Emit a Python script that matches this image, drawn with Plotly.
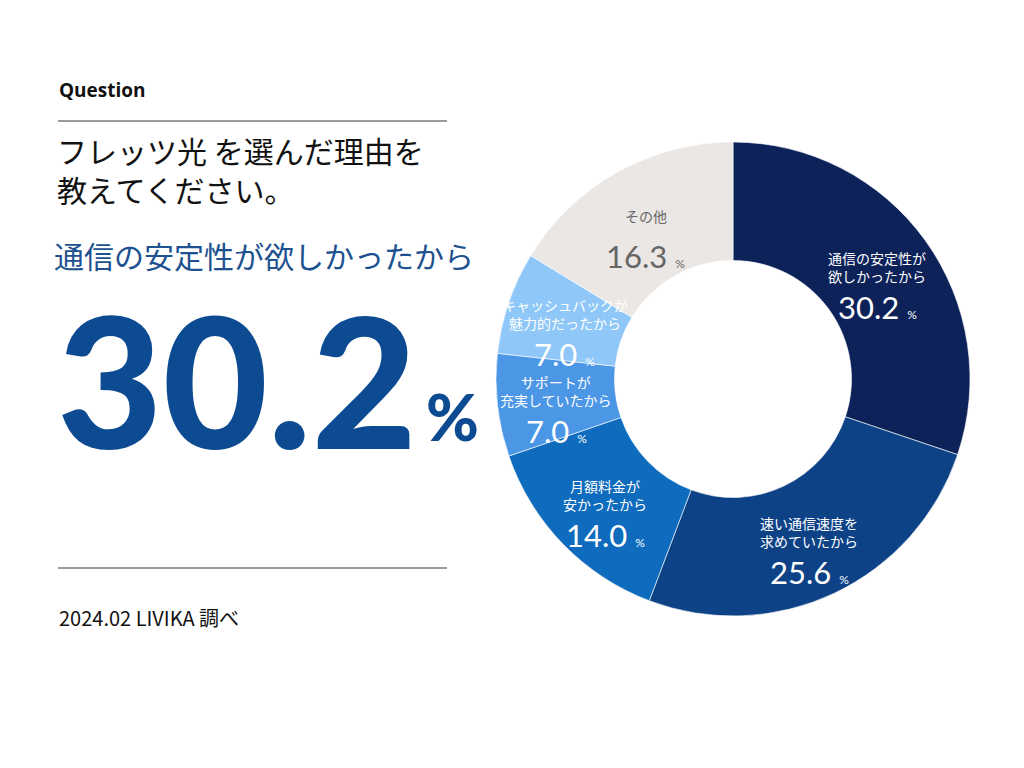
import numpy as np
import plotly.graph_objects as go

# survey data
labels = ["通信の安定性が<br>欲しかったから", "速い通信速度を<br>求めていたから",
          "月額料金が<br>安かったから", "サポートが<br>充実していたから",
          "キャッシュバックが<br>魅力的だったから", "その他"]
values = [30.2, 25.6, 14.0, 7.0, 7.0, 16.3]
colors = ["#0c2259", "#0e4287", "#0f6bbd", "#4b96e5", "#8fc8f8", "#ebe7e4"]
text_colors = ["white", "white", "white", "white", "white", "#666666"]

question = ["フレッツ光 を選んだ理由を", "教えてください。"]
top_label = "通信の安定性が欲しかったから"
top_value = values[0]
source = "2024.02 LIVIKA 調べ"

W, H = 1024, 768
cx, cy, r_out, hole = 733, 379, 237, 0.5


def px(x):
    return x / W


def py(y):
    return 1 - y / H


fig = go.Figure()
fig.add_trace(go.Pie(
    labels=labels, values=values, sort=False, direction="clockwise",
    rotation=0, hole=hole, textinfo="none", hoverinfo="label+value",
    marker=dict(colors=colors, line=dict(color="white", width=0.6)),
    domain=dict(x=[px(cx - r_out), px(cx + r_out)],
                y=[py(cy + r_out), py(cy - r_out)]),
    showlegend=False,
))

# slice labels at the middle of the ring
cum = np.cumsum([0] + values)
total = cum[-1]
r_mid = r_out * (1 + hole) / 2
for i, (lab, v) in enumerate(zip(labels, values)):
    ang = np.deg2rad((cum[i] + v / 2) / total * 360)
    x = cx + r_mid * np.sin(ang)
    y = cy - r_mid * np.cos(ang)
    fig.add_annotation(x=px(x), y=py(y), xref="paper", yref="paper",
                       text=lab, showarrow=False, yshift=8, borderpad=0,
                       xanchor="center", yanchor="middle",
                       font=dict(family="Noto Sans CJK JP", size=14,
                                 color=text_colors[i]))
    fig.add_annotation(x=px(x), y=py(y), xref="paper", yref="paper",
                       text="%.1f <span style='font-size:12px'>%%</span>" % v,
                       showarrow=False, yshift=-32, borderpad=0,
                       xanchor="center", yanchor="middle",
                       font=dict(family="Lato", size=31,
                                 color=text_colors[i]))

# left side texts
fig.add_annotation(x=px(57), y=py(90), xref="paper", yref="paper",
                   text="<b>Question</b>", showarrow=False,
                   xanchor="left", yanchor="middle",
                   font=dict(family="Open Sans", size=19, color="#111111"))
fig.add_annotation(x=px(56), y=py(170), xref="paper", yref="paper",
                   text="<br>".join(question), showarrow=False, borderpad=0,
                   xanchor="left", yanchor="middle", align="left",
                   font=dict(family="Noto Sans CJK JP", size=30,
                             color="#111111"))
fig.add_annotation(x=px(53), y=py(255), xref="paper", yref="paper",
                   text=top_label, showarrow=False, borderpad=0,
                   xanchor="left", yanchor="middle",
                   font=dict(family="Noto Sans CJK JP", size=30, color="#1d5190"))
fig.add_annotation(x=px(56), y=py(378), xref="paper", yref="paper",
                   text="%.1f" % top_value, borderpad=0,
                   showarrow=False, xanchor="left", yanchor="middle",
                   font=dict(family="Lato", size=182, weight=900,
                             color="#0c4a92"))
fig.add_annotation(x=px(424), y=py(416), xref="paper", yref="paper",
                   text="%", showarrow=False, xanchor="left", yanchor="middle",
                   font=dict(family="Lato", size=64, weight=900,
                             color="#0c4a92"))
fig.add_annotation(x=px(57), y=py(617), xref="paper", yref="paper",
                   text=source, showarrow=False,
                   xanchor="left", yanchor="middle",
                   font=dict(family="Noto Sans CJK JP", size=20, color="#111111"))

for yy in [121, 568]:
    fig.add_shape(type="line", xref="paper", yref="paper",
                  x0=px(58), x1=px(447), y0=py(yy), y1=py(yy),
                  line=dict(color="#7a7a7a", width=1.5))

fig.update_layout(
    width=W, height=H,
    margin=dict(l=0, r=0, t=0, b=0),
    paper_bgcolor="white", plot_bgcolor="white",
)

fig.write_html("out.html", config={"displayModeBar": False},
               post_script="document.body.style.margin='0';")
